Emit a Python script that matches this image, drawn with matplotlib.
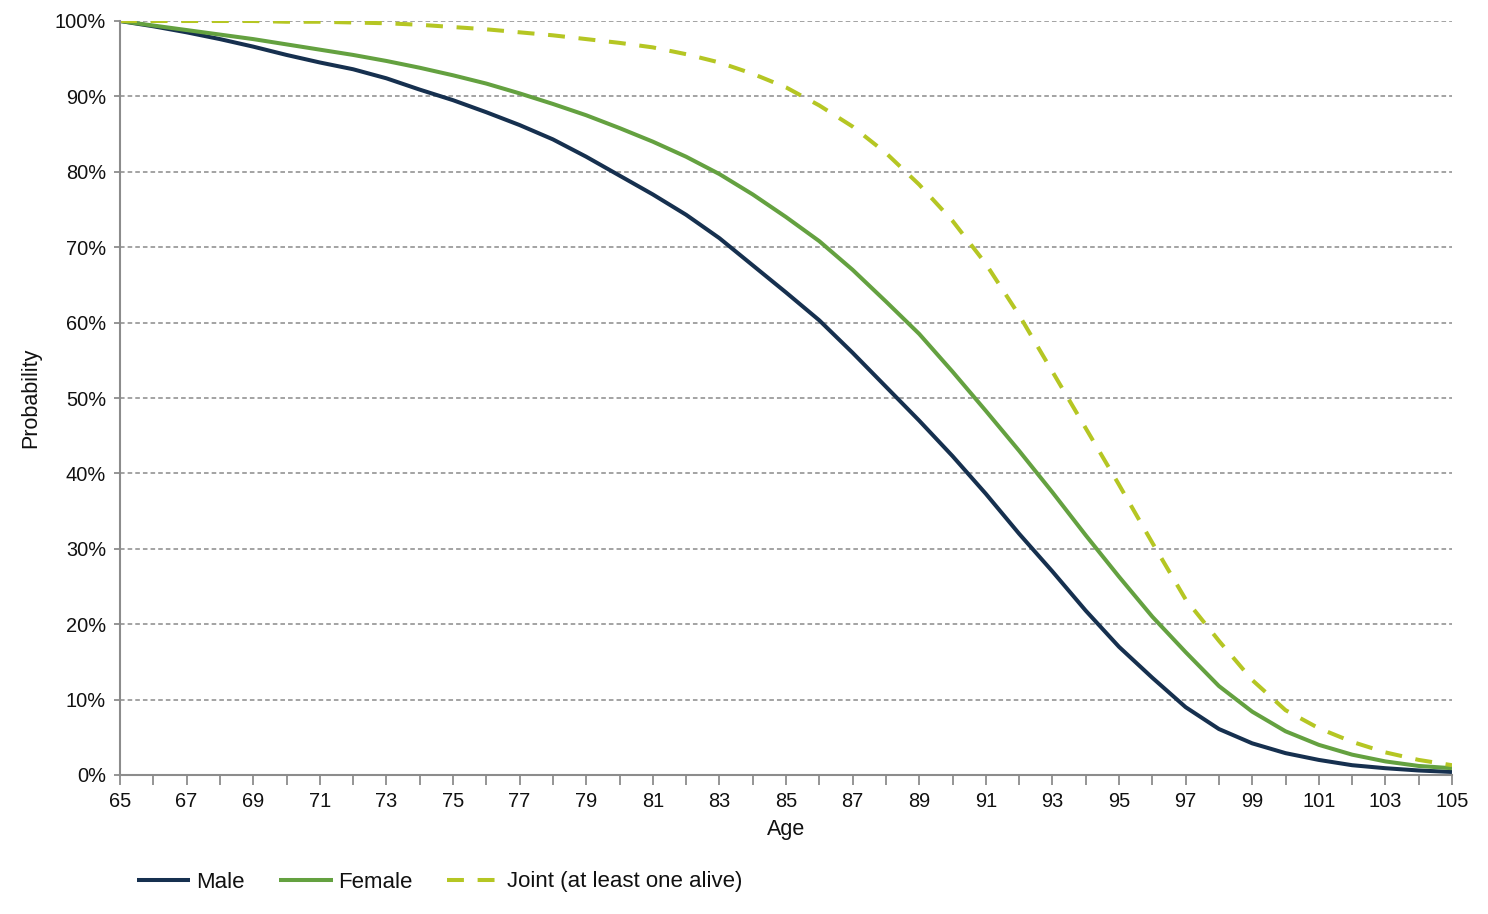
import matplotlib
matplotlib.use("Agg")
import matplotlib.pyplot as plt
from matplotlib.ticker import FuncFormatter, MultipleLocator, FixedLocator

ages = list(range(65, 106))
male = [100, 99.3, 98.5, 97.6, 96.6, 95.5, 94.5, 93.6, 92.4, 90.9,
        89.5, 87.9, 86.2, 84.3, 82.0, 79.5, 77.0, 74.3, 71.2, 67.6,
        64.0, 60.3, 56.0, 51.5, 47.0, 42.3, 37.3, 32.0, 27.0, 21.8,
        17.0, 12.9, 9.0, 6.1, 4.2, 2.9, 2.0, 1.3, 0.9, 0.6, 0.4]
female = [100, 99.4, 98.8, 98.2, 97.6, 96.9, 96.2, 95.5, 94.7, 93.8,
          92.8, 91.7, 90.4, 89.0, 87.5, 85.8, 84.0, 82.0, 79.7, 77.0,
          74.0, 70.8, 67.0, 62.8, 58.5, 53.5, 48.3, 43.0, 37.5, 31.8,
          26.3, 21.0, 16.3, 11.8, 8.4, 5.8, 4.0, 2.7, 1.8, 1.2, 0.9]
joint = [100, 100, 100, 100, 100, 99.9, 99.9, 99.8, 99.7, 99.5,
         99.2, 98.9, 98.5, 98.1, 97.6, 97.1, 96.5, 95.6, 94.5, 93.0,
         91.2, 88.8, 86.0, 82.5, 78.3, 73.5, 67.8, 61.0, 53.5, 46.0,
         38.5, 30.8, 23.3, 17.8, 12.6, 8.6, 6.2, 4.4, 3.0, 2.0, 1.3]
tick_ages = list(range(65, 106, 2))
labels = ["Male", "Female", "Joint (at least one alive)"]
colors = ["#16304f", "#64a140", "#b5c623"]

plt.rcParams['font.family'] = ['Liberation Sans', 'DejaVu Sans']

fig = plt.figure(figsize=(14.88, 9.14), dpi=100)
ax = fig.add_axes([120/1488, 1-775/914, (1452-120)/1488, (775-21)/914])

ax.plot(ages, male, color=colors[0], lw=2.9, label=labels[0], solid_capstyle='butt')
ax.plot(ages, female, color=colors[1], lw=2.9, label=labels[1], solid_capstyle='butt')
ax.plot(ages, joint, color=colors[2], lw=2.9, label=labels[2], dashes=(4.2, 3.4))

ax.set_xlim(65, 105)
ax.set_ylim(0, 100)
ax.xaxis.set_major_locator(FixedLocator(tick_ages))
ax.xaxis.set_minor_locator(MultipleLocator(1))
ax.yaxis.set_major_locator(MultipleLocator(10))
ax.yaxis.set_major_formatter(FuncFormatter(lambda v, p: f"{int(round(v))}%"))

ax.grid(axis='y', which='major', color='#8a8a8a', linestyle=(0, (3, 2)), lw=1.1)
ax.set_axisbelow(True)
for s in ['top', 'right']:
    ax.spines[s].set_visible(False)
for s in ['left', 'bottom']:
    ax.spines[s].set_color('#8c8c8c')
    ax.spines[s].set_linewidth(1.5)

ax.tick_params(axis='x', which='both', length=7, width=1.3, color='#8c8c8c',
               labelsize=14.4, pad=5, labelcolor='#111111')
ax.tick_params(axis='y', which='major', length=4, width=1.3, color='#8c8c8c',
               labelsize=14.4, pad=6, labelcolor='#111111')

ax.set_xlabel("Age", fontsize=15.5, labelpad=6, color='#111111')
ax.set_ylabel("Probability", fontsize=15.5, labelpad=10, color='#111111')

leg = fig.legend(loc='center left', bbox_to_anchor=(137/1488, 1-882/914), ncol=3,
                 frameon=False, fontsize=16, handlelength=2.4, handletextpad=0.27,
                 columnspacing=1.55, borderpad=0, borderaxespad=0)
for t in leg.get_texts():
    t.set_color('#111111')

fig.savefig("out.png", dpi=100)
